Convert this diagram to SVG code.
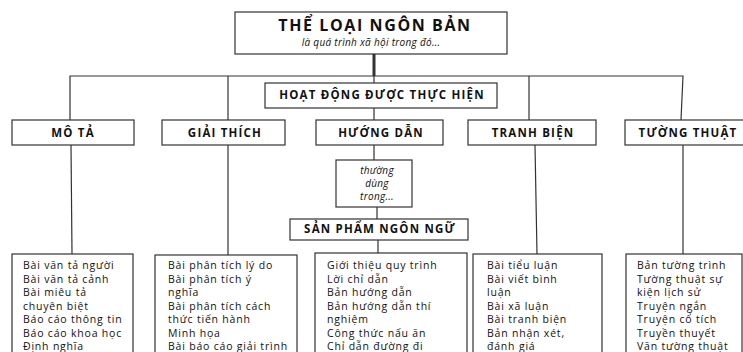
<svg xmlns="http://www.w3.org/2000/svg" width="743" height="352" viewBox="0 0 743 352">
<style>
.box{fill:#fff;stroke:#333;stroke-width:1.2}
.ln{fill:none;stroke:#333;stroke-width:1.2}
.h{font-family:"Open Sans","Liberation Sans",sans-serif;font-weight:bold;fill:#111;text-anchor:middle;letter-spacing:1.2px}
.it{font-family:"Open Sans","Liberation Sans",sans-serif;font-style:italic;fill:#111;text-anchor:middle;font-size:10px;letter-spacing:0.3px}
.li{font-family:"Open Sans","Liberation Sans",sans-serif;fill:#111;font-size:10.5px;letter-spacing:0.8px}
</style>
<rect width="743" height="352" fill="#fff"/>
<g id="connectors">
<line class="ln" x1="374" y1="54" x2="374" y2="76" style="stroke-width:3"/>
<polyline class="ln" points="70,120 70,76 683,76 681,120"/>
<line class="ln" x1="228" y1="76" x2="228" y2="120"/>
<line class="ln" x1="529" y1="76" x2="529" y2="120"/>
<line class="ln" x1="374" y1="76" x2="374" y2="120"/>
<line class="ln" x1="71" y1="145" x2="72" y2="254"/>
<line class="ln" x1="228" y1="145" x2="228" y2="255"/>
<line class="ln" x1="374" y1="145" x2="374" y2="160"/>
<line class="ln" x1="377" y1="207" x2="377" y2="219"/>
<line class="ln" x1="378" y1="240" x2="378" y2="253"/>
<line class="ln" x1="535" y1="145" x2="537" y2="254"/>
<line class="ln" x1="683" y1="145" x2="683" y2="254"/>
</g>
<g id="title">
<rect class="box" x="235" y="12" width="272" height="42"/>
<text class="h" x="375" y="31" font-size="16" style="letter-spacing:1.6px">THỂ LOẠI NGÔN BẢN</text>
<text class="it" x="371" y="46">là quá trình xã hội trong đó...</text>
</g>
<g id="hoatdong">
<rect class="box" x="265" y="83" width="232" height="25"/>
<text class="h" x="382" y="99" font-size="11.5">HOẠT ĐỘNG ĐƯỢC THỰC HIỆN</text>
</g>
<g id="mota">
<rect class="box" x="12" y="120" width="122" height="25"/>
<text class="h" x="73" y="137" font-size="11.5">MÔ TẢ</text>
</g>
<g id="giaithich">
<rect class="box" x="162" y="120" width="123" height="25"/>
<text class="h" x="225" y="137" font-size="11.5">GIẢI THÍCH</text>
</g>
<g id="huongdan">
<rect class="box" x="316" y="120" width="127" height="25"/>
<text class="h" x="381" y="137" font-size="11.5">HƯỚNG DẪN</text>
</g>
<g id="tranhbien">
<rect class="box" x="468" y="120" width="128" height="25"/>
<text class="h" x="533" y="137" font-size="11.5">TRANH BIỆN</text>
</g>
<g id="tuongthuat">
<rect class="box" x="625" y="120" width="125" height="25"/>
<text class="h" x="688" y="137" font-size="11.5">TƯỜNG THUẬT</text>
</g>
<g id="thuongdung">
<rect class="box" x="336" y="160" width="76" height="47"/>
<text class="it" x="377" y="174" font-size="9.5">thường</text>
<text class="it" x="377" y="187" font-size="9.5">dùng</text>
<text class="it" x="377" y="200" font-size="9.5">trong...</text>
</g>
<g id="sanpham">
<rect class="box" x="290" y="219" width="178" height="21"/>
<text class="h" x="380" y="233" font-size="11.5">SẢN PHẨM NGÔN NGỮ</text>
</g>
<g id="list-mota">
<rect class="box" x="12" y="254" width="121" height="110"/>
<text class="li" x="23" y="269">Bài văn tả người</text>
<text class="li" x="23" y="282.5">Bài văn tả cảnh</text>
<text class="li" x="23" y="296">Bài miêu tả</text>
<text class="li" x="23" y="309.5">chuyên biệt</text>
<text class="li" x="23" y="323">Báo cáo thông tin</text>
<text class="li" x="23" y="336.5">Báo cáo khoa  học</text>
<text class="li" x="23" y="350">Định nghĩa</text>
</g>
<g id="list-giaithich">
<rect class="box" x="155" y="255" width="142" height="110"/>
<text class="li" x="168" y="269">Bài phân tích lý do</text>
<text class="li" x="168" y="282.5">Bài phân tích ý</text>
<text class="li" x="168" y="296">nghĩa</text>
<text class="li" x="168" y="309.5">Bài phân tích cách</text>
<text class="li" x="168" y="323">thức tiến hành</text>
<text class="li" x="168" y="336.5">Minh họa</text>
<text class="li" x="168" y="350">Bài báo cáo giải trình</text>
</g>
<g id="list-huongdan">
<rect class="box" x="315" y="253" width="152" height="110"/>
<text class="li" x="327" y="269">Giới thiệu quy trình</text>
<text class="li" x="327" y="282.5">Lời chỉ dẫn</text>
<text class="li" x="327" y="296">Bản hướng dẫn</text>
<text class="li" x="327" y="309.5">Bản hướng dẫn thí</text>
<text class="li" x="327" y="323">nghiệm</text>
<text class="li" x="327" y="336.5">Công thức nấu ăn</text>
<text class="li" x="327" y="350">Chỉ dẫn đường đi</text>
</g>
<g id="list-tranhbien">
<rect class="box" x="473" y="254" width="129" height="110"/>
<text class="li" x="487" y="269">Bài tiểu luận</text>
<text class="li" x="487" y="282.5">Bài viết bình</text>
<text class="li" x="487" y="296">luận</text>
<text class="li" x="487" y="309.5">Bài xã luận</text>
<text class="li" x="487" y="323">Bài tranh biện</text>
<text class="li" x="487" y="336.5">Bản nhận xét,</text>
<text class="li" x="487" y="350">đánh giá</text>
</g>
<g id="list-tuongthuat">
<rect class="box" x="626" y="254" width="116" height="110"/>
<text class="li" x="637" y="269">Bản tường trình</text>
<text class="li" x="637" y="282.5">Tường thuật sự</text>
<text class="li" x="637" y="296">kiện lịch sử</text>
<text class="li" x="637" y="309.5">Truyện ngắn</text>
<text class="li" x="637" y="323">Truyện cổ tích</text>
<text class="li" x="637" y="336.5">Truyền thuyết</text>
<text class="li" x="637" y="350">Văn tường thuật</text>
</g>
</svg>
